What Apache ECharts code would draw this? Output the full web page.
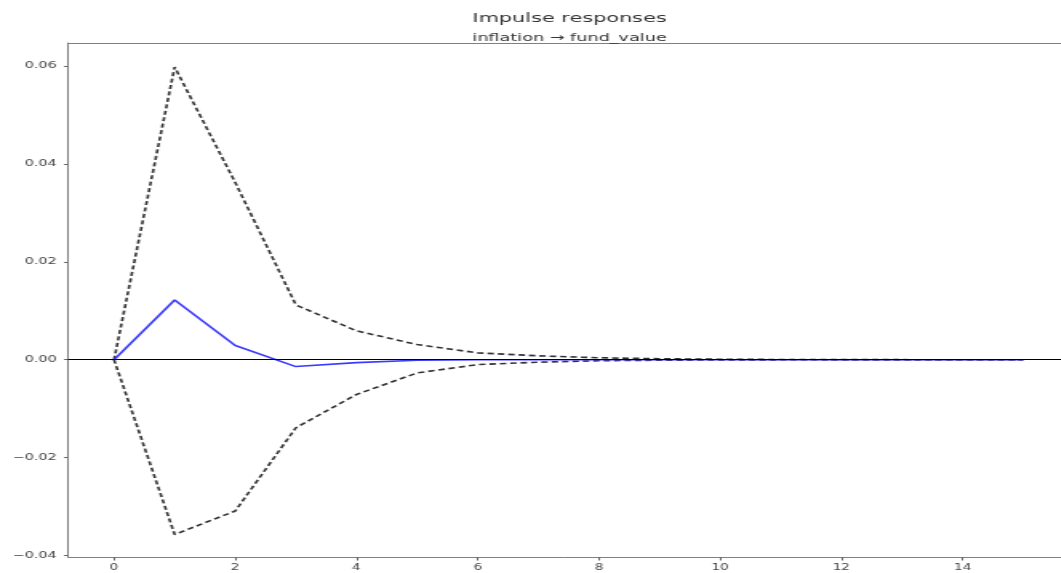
<!DOCTYPE html>
<html>
<head>
<meta charset="utf-8">
<script src="https://cdn.jsdelivr.net/npm/echarts@6/dist/echarts.min.js"></script>
<style>
html,body{margin:0;padding:0;background:#fff;overflow:hidden;}
#wrap{width:1061px;height:573px;overflow:hidden;}
#chart{width:663px;height:573px;transform:scaleX(1.6);transform-origin:0 0;}
</style>
</head>
<body>
<div id="wrap"><div id="chart"></div></div>
<script>
const periods = [0, 1, 2, 3, 4, 5, 6, 7, 8, 9, 10, 11, 12, 13, 14, 15];
const irf   = [0, 0.0122, 0.0029, -0.0014, -0.0006, -0.0001, 0, 0, 0, 0, 0, 0, 0, 0, 0, 0];
const upper = [0, 0.0598, 0.0362, 0.0112, 0.0059, 0.0031, 0.0014, 0.0008, 0.0004, 0.0002, 0.0001, 0.00005, 0.00002, 0.00001, 0, 0];
const lower = [0, -0.0357, -0.0309, -0.0139, -0.0071, -0.0027, -0.0010, -0.0005, -0.0002, -0.0001, -0.00005, -0.00002, -0.00001, 0, 0, 0];
const xTicks = [0, 2, 4, 6, 8, 10, 12, 14];
const yTicks = [-0.04, -0.02, 0, 0.02, 0.04, 0.06];
const titleText = 'Impulse responses';
const subtitleText = 'inflation \u2192 fund_value';

const pair = (ys) => periods.map((p, i) => [p, ys[i]]);
const font = 'DejaVu Sans';
const spine = '#808080';
const chart = echarts.init(document.getElementById('chart'), null, {renderer: 'canvas'});
chart.setOption({
  animation: false,
  backgroundColor: '#fff',
  title: [
    {text: titleText, left: 351, top: 7, textAlign: 'center',
     textStyle: {fontFamily: font, fontSize: 13, fontWeight: 'normal', color: '#333'}},
    {text: subtitleText, left: 351, top: 28, textAlign: 'center',
     textStyle: {fontFamily: font, fontSize: 11, fontWeight: 'normal', color: '#333'}}
  ],
  grid: {left: 42.5, top: 43, width: 620.5, height: 514, show: false},
  xAxis: [{
    type: 'value', min: -0.76, max: 15.62,
    splitLine: {show: false},
    axisLine: {show: true, onZero: false, lineStyle: {color: spine, width: 1}},
    axisTick: {show: true, customValues: xTicks, length: 3.5, lineStyle: {color: '#666'}},
    axisLabel: {customValues: xTicks, margin: 6, fontFamily: font, fontSize: 8.5, color: '#444',
      formatter: v => String(Math.round(v))}
  }, {
    type: 'value', min: -0.76, max: 15.62, position: 'top',
    splitLine: {show: false},
    axisLine: {show: true, onZero: false, lineStyle: {color: spine, width: 1}},
    axisTick: {show: false}, axisLabel: {show: false}
  }],
  yAxis: {
    type: 'value', min: -0.0403, max: 0.0647,
    splitLine: {show: false},
    axisLine: {show: true, onZero: false, lineStyle: {color: spine, width: 1}},
    axisTick: {show: true, customValues: yTicks, length: 2.5, lineStyle: {color: '#666'}},
    axisLabel: {customValues: yTicks, margin: 7, fontFamily: font, fontSize: 9, color: '#444',
      formatter: v => (v < 0 ? '\u2212' : '') + Math.abs(v).toFixed(2)}
  },
  series: [
    {type: 'line', data: pair(upper), symbol: 'none', z: 3,
     lineStyle: {color: '#333', width: 1.6, type: [4, 2.5]}},
    {type: 'line', data: pair(lower), symbol: 'none', z: 3,
     lineStyle: {color: '#333', width: 1.6, type: [4, 2.5]}},
    {type: 'line', data: pair(irf), symbol: 'none', z: 4,
     lineStyle: {color: '#3b3bff', width: 1.6},
     markLine: {silent: true, symbol: 'none', label: {show: false},
       lineStyle: {color: '#000', width: 1.2, type: 'solid'},
       data: [{yAxis: 0}]}}
  ]
});
</script>
</body>
</html>
